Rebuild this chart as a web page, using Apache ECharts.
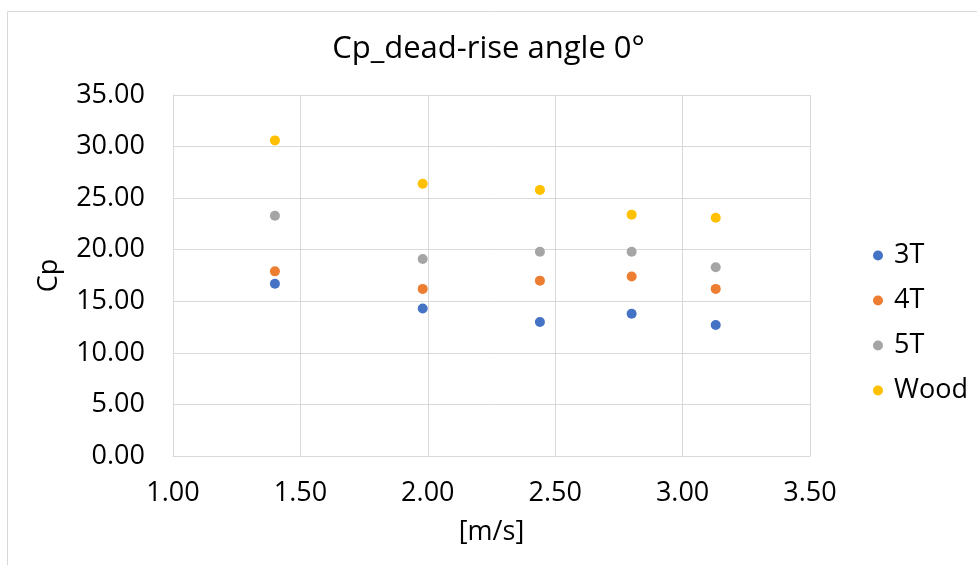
<!DOCTYPE html>
<html><head><meta charset="utf-8">
<script src="https://cdn.jsdelivr.net/npm/echarts@6/dist/echarts.min.js"></script>
<style>html,body{margin:0;padding:0;background:#fff}#c{width:977px;height:565px}</style>
</head><body><div id="c"></div>
<script>
const xValues = [1.40, 1.98, 2.44, 2.80, 3.13];
const s3T = [16.7, 14.3, 13.0, 13.8, 12.7];
const s4T = [17.9, 16.2, 17.0, 17.4, 16.2];
const s5T = [23.3, 19.1, 19.8, 19.8, 18.3];
const sWood = [30.6, 26.4, 25.8, 23.4, 23.1];
const seriesNames = ['3T', '4T', '5T', 'Wood'];
const colors = ['#4472C4', '#ED7D31', '#A5A5A5', '#FFC000'];
const allData = [s3T, s4T, s5T, sWood];
const FONT = 'Open Sans, Noto Sans, sans-serif';

const chart = echarts.init(document.getElementById('c'));
chart.setOption({
  animation: false,
  backgroundColor: '#fff',
  graphic: [{
    type: 'rect', left: 5, top: 9, z: -1,
    shape: { width: 980, height: 560 },
    style: { fill: 'none', stroke: '#d9d9d9', lineWidth: 1 }
  }],
  title: {
    text: 'Cp_dead-rise angle 0°', left: 'center', top: 29,
    textStyle: { fontFamily: FONT, fontSize: 31, fontWeight: 'normal', color: '#000' }
  },
  legend: {
    orient: 'vertical', left: 868, top: 237, itemGap: 18,
    itemWidth: 10, itemHeight: 10, icon: 'circle',
    textStyle: { fontFamily: FONT, fontSize: 27, color: '#000', padding: [0, 0, 0, 6] },
    data: seriesNames
  },
  grid: { left: 173, right: 167, top: 95, bottom: 109 },
  xAxis: {
    type: 'value', min: 1, max: 3.5, interval: 0.5,
    name: '[m/s]', nameLocation: 'middle', nameGap: 63,
    nameTextStyle: { fontFamily: FONT, fontSize: 27, color: '#000' },
    axisLine: { show: true, lineStyle: { color: '#d9d9d9' } },
    axisTick: { show: false },
    axisLabel: { fontFamily: FONT, fontSize: 27, color: '#000', margin: 24, formatter: v => v.toFixed(2) },
    splitLine: { show: true, lineStyle: { color: '#d9d9d9' } }
  },
  yAxis: {
    type: 'value', min: 0, max: 35, interval: 5,
    name: 'Cp', nameLocation: 'middle', nameGap: 110, nameRotate: 90,
    nameTextStyle: { fontFamily: FONT, fontSize: 27, color: '#000' },
    axisLine: { show: true, lineStyle: { color: '#d9d9d9' } },
    axisTick: { show: false },
    axisLabel: { fontFamily: FONT, fontSize: 27, color: '#000', margin: 28, formatter: v => v.toFixed(2) },
    splitLine: { show: true, lineStyle: { color: '#d9d9d9' } }
  },
  series: seriesNames.map((n, i) => ({
    name: n, type: 'scatter', symbol: 'circle', symbolSize: 10,
    itemStyle: { color: colors[i], opacity: 1 },
    data: xValues.map((x, j) => [x, allData[i][j]])
  }))
});
</script></body></html>
